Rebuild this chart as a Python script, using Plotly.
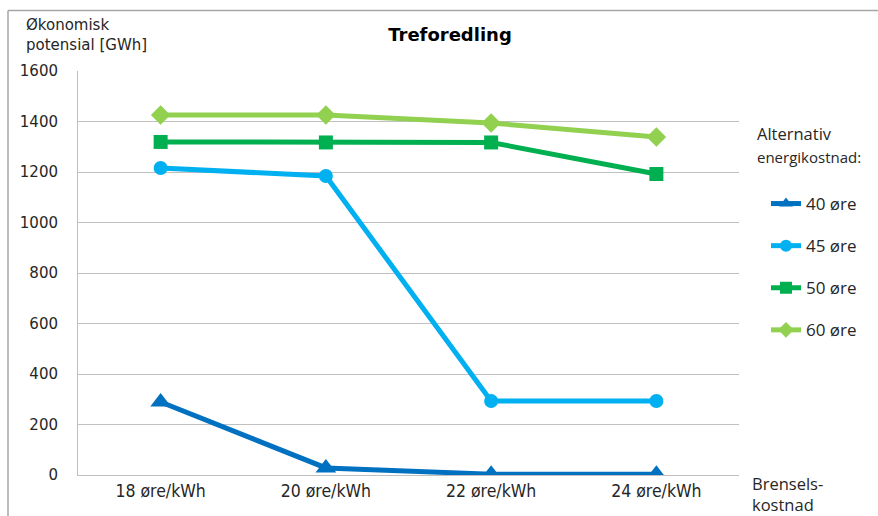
import plotly.graph_objects as go

categories = ["18 øre/kWh", "20 øre/kWh", "22 øre/kWh", "24 øre/kWh"]
s40 = [289, 28, 3, 3]
s45 = [1216, 1184, 293, 293]
s50 = [1319, 1317, 1317, 1192]
s60 = [1426, 1426, 1394, 1339]
series_names = ["40 øre", "45 øre", "50 øre", "60 øre"]
colors = ["#0070C0", "#00B0F0", "#00B050", "#92D050"]
symbols = ["triangle-up", "circle", "square", "diamond"]
sizes = [18, 14, 14, 15]

fig = go.Figure()
for i, (name, vals) in enumerate(zip(series_names, [s40, s45, s50, s60])):
    fig.add_trace(go.Scatter(
        x=categories, y=vals, name=name, mode="lines+markers",
        line=dict(color=colors[i], width=5),
        marker=dict(symbol=symbols[i], size=sizes[i], color=colors[i]),
        legendgroup=name,
    ))

fig.update_layout(
    width=878, height=516,
    margin=dict(l=78, r=139, t=71, b=41),
    paper_bgcolor="white", plot_bgcolor="white",
    font=dict(family="DejaVu Sans", size=12, color="#262626"),
    title=dict(text="<b>Treforedling</b>", x=450/878, xanchor="center",
               y=1-35/516, yanchor="middle", font=dict(size=18, color="black")),
    xaxis=dict(type="category", range=[-0.5, 3.5], showgrid=False,
               showline=True, linecolor="#BFBFBF", linewidth=1,
               ticks="", tickfont=dict(size=17.5, family="DejaVu Sans Condensed")),
    yaxis=dict(range=[0, 1600], dtick=200, showgrid=True, gridcolor="#C0C0C0",
               gridwidth=1, showline=True, linecolor="#BFBFBF", linewidth=1,
               ticks="", tickfont=dict(size=15), ticklabelstandoff=16,
               zeroline=False),
    legend=dict(x=(766-78)/661, xanchor="left", y=(475-186)/404, yanchor="top",
                tracegroupgap=17, font=dict(size=17, family="Open Sans"),
                itemwidth=30, itemsizing="constant", bgcolor="rgba(0,0,0,0)"),
    showlegend=True,
)

fig.add_annotation(text="Økonomisk<br>potensial [GWh]", xref="paper", yref="paper",
                   x=(24-78)/661, y=(475-14)/404, xanchor="left", yanchor="top",
                   align="left", showarrow=False, font=dict(size=15, color="#262626"))
fig.add_annotation(text="Alternativ", xref="paper", yref="paper",
                   x=(755-78)/661, y=(475-120)/404, xanchor="left", yanchor="top",
                   align="left", showarrow=False, font=dict(size=16.5, family="Open Sans", color="#262626"))
fig.add_annotation(text="energikostnad:", xref="paper", yref="paper",
                   x=(755-78)/661, y=(475-145)/404, xanchor="left", yanchor="top",
                   align="left", showarrow=False, font=dict(size=15, family="Open Sans", color="#262626"))
fig.add_annotation(text="Brensels-<br>kostnad", xref="paper", yref="paper",
                   x=(750-78)/661, y=(475-470)/404, xanchor="left", yanchor="top",
                   align="left", showarrow=False, font=dict(size=16.5, family="Open Sans", color="#262626"))

# outer chart border (top and left visible)
fig.add_shape(type="line", xref="paper", yref="paper",
              x0=(8-78)/661, x1=(880-78)/661, y0=(475-10.5)/404, y1=(475-10.5)/404,
              line=dict(color="#A6A6A6", width=1.5))
fig.add_shape(type="line", xref="paper", yref="paper",
              x0=(8-78)/661, x1=(8-78)/661, y0=(475-10.5)/404, y1=(475-520)/404,
              line=dict(color="#A6A6A6", width=1.5))

fig.write_html("out.html")
